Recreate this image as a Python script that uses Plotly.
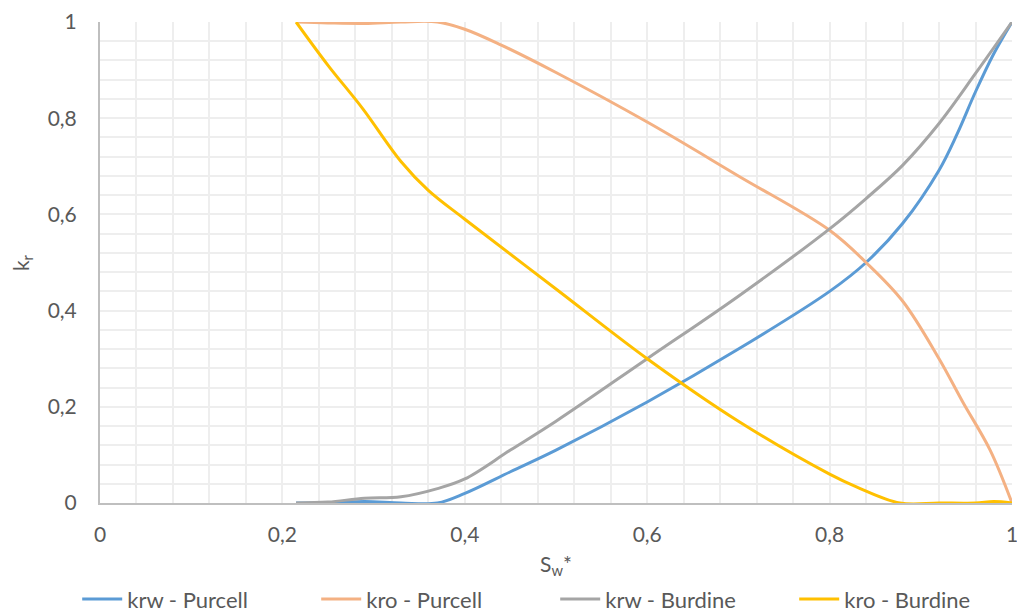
import plotly.graph_objects as go

# Data
sw_krw_purcell = [0.215, 0.25, 0.29, 0.33, 0.37, 0.40, 0.45, 0.50, 0.60, 0.70, 0.80, 0.84, 0.88, 0.92, 0.94, 0.96, 0.98, 1.00]
krw_purcell    = [0.0,   0.0,  0.003, 0.0, 0.0,  0.02, 0.065, 0.11, 0.21, 0.32, 0.44, 0.50, 0.581, 0.692, 0.768, 0.855, 0.934, 1.00]

sw_kro_purcell = [0.215, 0.25, 0.29, 0.33, 0.37, 0.40, 0.44, 0.50, 0.60, 0.70, 0.80, 0.84, 0.88, 0.92, 0.946, 0.976, 1.00]
kro_purcell    = [1.0,   0.998, 0.997, 1.0, 1.0, 0.985, 0.952, 0.895, 0.792, 0.68, 0.567, 0.50, 0.42, 0.30, 0.21, 0.11, 0.0]

sw_krw_burdine = [0.215, 0.25, 0.29, 0.33, 0.37, 0.40, 0.45, 0.50, 0.60, 0.70, 0.80, 0.84, 0.88, 0.92, 0.96, 1.00]
krw_burdine    = [0.0,   0.002, 0.01, 0.013, 0.03, 0.05, 0.11, 0.17, 0.30, 0.43, 0.57, 0.633, 0.702, 0.789, 0.893, 1.00]

sw_kro_burdine = [0.215, 0.25, 0.288, 0.33, 0.36, 0.40, 0.50, 0.60, 0.70, 0.80, 0.83, 0.877, 0.92, 0.96, 0.98, 1.00]
kro_burdine    = [1.0,   0.91, 0.82, 0.71, 0.65, 0.59, 0.445, 0.30, 0.17, 0.06, 0.033, 0.0, 0.0, 0.0, 0.003, 0.0]

x_ticks = [0, 0.2, 0.4, 0.6, 0.8, 1]
y_ticks = [0, 0.2, 0.4, 0.6, 0.8, 1]
tick_text = ["0", "0,2", "0,4", "0,6", "0,8", "1"]
x_title = "S<sub>w</sub>*"
y_title = "k<sub>r</sub>"

FONT = "Lato, Open Sans, sans-serif"
TXT = "#595959"

series = [
    ("krw - Purcell", sw_krw_purcell, krw_purcell, "#5B9BD5"),
    ("kro - Purcell", sw_kro_purcell, kro_purcell, "#F4B183"),
    ("krw - Burdine", sw_krw_burdine, krw_burdine, "#A5A5A5"),
    ("kro - Burdine", sw_kro_burdine, kro_burdine, "#FFC000"),
]

fig = go.Figure()
for name, xs, ys, color in series:
    fig.add_trace(go.Scatter(
        x=xs, y=ys, name=name, mode="lines", cliponaxis=False,
        line=dict(color=color, width=3, shape="spline", smoothing=1.0),
    ))

fig.update_layout(
    width=1017, height=612,
    margin=dict(l=100, r=5, t=22, b=109, autoexpand=False),
    paper_bgcolor="white", plot_bgcolor="white",
    font=dict(family=FONT, color=TXT, size=20),
    showlegend=True,
    legend=dict(orientation="h", x=-0.025, xanchor="left", y=-0.2, yanchor="middle",
                font=dict(size=22, color=TXT), entrywidth=184, entrywidthmode="pixels",
                itemwidth=40, traceorder="normal", bgcolor="rgba(0,0,0,0)"),
    annotations=[
        dict(text=x_title, xref="paper", yref="paper", x=0.5, y=-0.095,
             xanchor="center", yanchor="top", showarrow=False,
             font=dict(size=21, color=TXT, family=FONT)),
        dict(text=y_title, xref="paper", yref="paper", x=-0.086, y=0.50,
             xanchor="center", yanchor="middle", showarrow=False, textangle=-90,
             font=dict(size=21, color=TXT, family=FONT)),
    ],
)
fig.update_xaxes(
    range=[0, 1], tickvals=x_ticks, ticktext=tick_text, automargin=False,
    showgrid=True, gridcolor="#EEEEEE", gridwidth=1.5,
    minor=dict(dtick=0.04, showgrid=True, gridcolor="#EEEEEE", gridwidth=1.5),
    showline=True, linecolor="#BFBFBF", linewidth=1.5,
    zeroline=False, ticks="", ticklabelstandoff=12, ticklabeloverflow="allow",
    tickfont=dict(size=21, color=TXT),
)
fig.update_yaxes(
    range=[0, 1], tickvals=y_ticks, ticktext=tick_text, automargin=False,
    showgrid=True, gridcolor="#EEEEEE", gridwidth=1.5,
    minor=dict(dtick=0.04, showgrid=True, gridcolor="#EEEEEE", gridwidth=1.5),
    showline=True, linecolor="#BFBFBF", linewidth=2,
    zeroline=False, ticks="", ticklabelstandoff=17, ticklabeloverflow="allow",
    tickfont=dict(size=21, color=TXT),
)

fig.write_html("out.html", config={"displayModeBar": False},
               post_script="document.body.style.margin='0';document.body.style.overflow='hidden';")
